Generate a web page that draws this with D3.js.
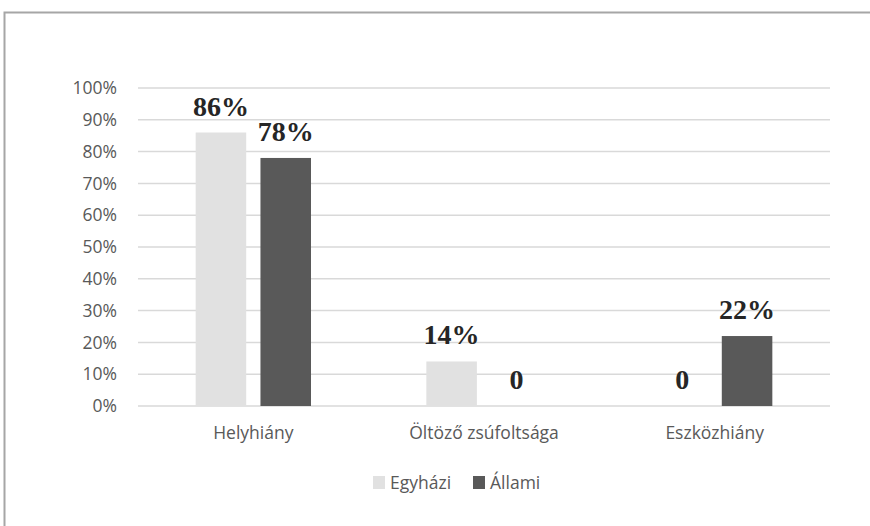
<!DOCTYPE html>
<html>
<head>
<meta charset="utf-8">
<script src="https://cdn.jsdelivr.net/npm/d3@7"></script>
<style>
  html, body { margin: 0; padding: 0; background: #fff; }
  svg { display: block; }
</style>
</head>
<body>
<svg id="chart" width="870" height="526"></svg>
<script>
// Categories and series
const categories = ["Helyhiány", "Öltöző zsúfoltsága", "Eszközhiány"];
const seriesNames = ["Egyházi", "Állami"];
const egyhazi = [0.86, 0.14, 0];
const allami = [0.78, 0, 0.22];
const valueLabels = [["86%", "14%", "0"], ["78%", "0", "22%"]];
const yTicks = [0, 0.1, 0.2, 0.3, 0.4, 0.5, 0.6, 0.7, 0.8, 0.9, 1.0];
const colors = ["#e1e1e1", "#595959"];

const svg = d3.select("#chart");
const W = 870, H = 526;
const sansFont = "'Open Sans', sans-serif";
const sansSize = "17.5px";

// Frame around the chart area
svg.append("path")
  .attr("d", `M${W + 1},12.5 L4.5,12.5 L4.5,${H + 1}`)
  .attr("fill", "none")
  .attr("stroke", "#a6a6a6")
  .attr("stroke-width", 2);

const plot = { left: 138, right: 830, top: 88, bottom: 406 };

const x0 = d3.scaleBand()
  .domain(categories)
  .range([plot.left, plot.right])
  .paddingInner(0.5)
  .paddingOuter(0.25);

const x1 = d3.scaleBand()
  .domain(seriesNames)
  .range([0, x0.bandwidth()])
  .paddingInner(0.22);

const y = d3.scaleLinear().domain([0, 1]).range([plot.bottom, plot.top]);

// Gridlines
svg.append("g")
  .selectAll("line")
  .data(yTicks)
  .join("line")
  .attr("x1", plot.left)
  .attr("x2", plot.right)
  .attr("y1", d => y(d))
  .attr("y2", d => y(d))
  .attr("stroke", "#d9d9d9")
  .attr("stroke-width", 1.5);

// Y axis labels
const yAxis = d3.axisLeft(y)
  .tickValues(yTicks)
  .tickFormat(d3.format(".0%"))
  .tickSize(0)
  .tickPadding(21);
const gy = svg.append("g").attr("transform", `translate(${plot.left},0)`).call(yAxis);
gy.select(".domain").remove();
gy.selectAll("text")
  .attr("fill", "#595959")
  .style("font-family", sansFont)
  .style("font-size", sansSize);

// X axis labels
const xAxis = d3.axisBottom(x0).tickSize(0).tickPadding(21);
const gx = svg.append("g").attr("transform", `translate(0,${plot.bottom})`).call(xAxis);
gx.select(".domain").remove();
gx.selectAll("text")
  .attr("fill", "#595959")
  .style("font-family", sansFont)
  .style("font-size", sansSize);

// Bars
const series = [egyhazi, allami];
const groups = svg.append("g")
  .selectAll("g")
  .data(categories)
  .join("g")
  .attr("transform", d => `translate(${x0(d)},0)`);

groups.selectAll("rect")
  .data((c, i) => seriesNames.map((s, k) => ({ s, k, v: series[k][i] })))
  .join("rect")
  .attr("x", d => x1(d.s))
  .attr("width", x1.bandwidth())
  .attr("y", d => y(d.v))
  .attr("height", d => y(0) - y(d.v))
  .attr("fill", d => colors[d.k]);

// Value labels
groups.selectAll("text.val")
  .data((c, i) => seriesNames.map((s, k) => ({ s, k, v: series[k][i], t: valueLabels[k][i] })))
  .join("text")
  .attr("class", "val")
  .attr("x", d => x1(d.s) + x1.bandwidth() / 2)
  .attr("y", d => y(d.v) - 17)
  .attr("text-anchor", "middle")
  .attr("fill", "#262626")
  .style("font-family", "'Liberation Serif', 'Times New Roman', serif")
  .style("font-weight", "bold")
  .style("font-size", "28px")
  .text(d => d.t);

// Legend
const legend = svg.append("g").attr("transform", "translate(373,476)");
const items = [{ name: seriesNames[0], x: 0, c: colors[0] }, { name: seriesNames[1], x: 100, c: colors[1] }];
const li = legend.selectAll("g").data(items).join("g").attr("transform", d => `translate(${d.x},0)`);
li.append("rect").attr("width", 12).attr("height", 13).attr("fill", d => d.c);
li.append("text")
  .attr("x", 17)
  .attr("y", 13)
  .attr("fill", "#595959")
  .style("font-family", sansFont)
  .style("font-size", sansSize)
  .text(d => d.name);
</script>
</body>
</html>
